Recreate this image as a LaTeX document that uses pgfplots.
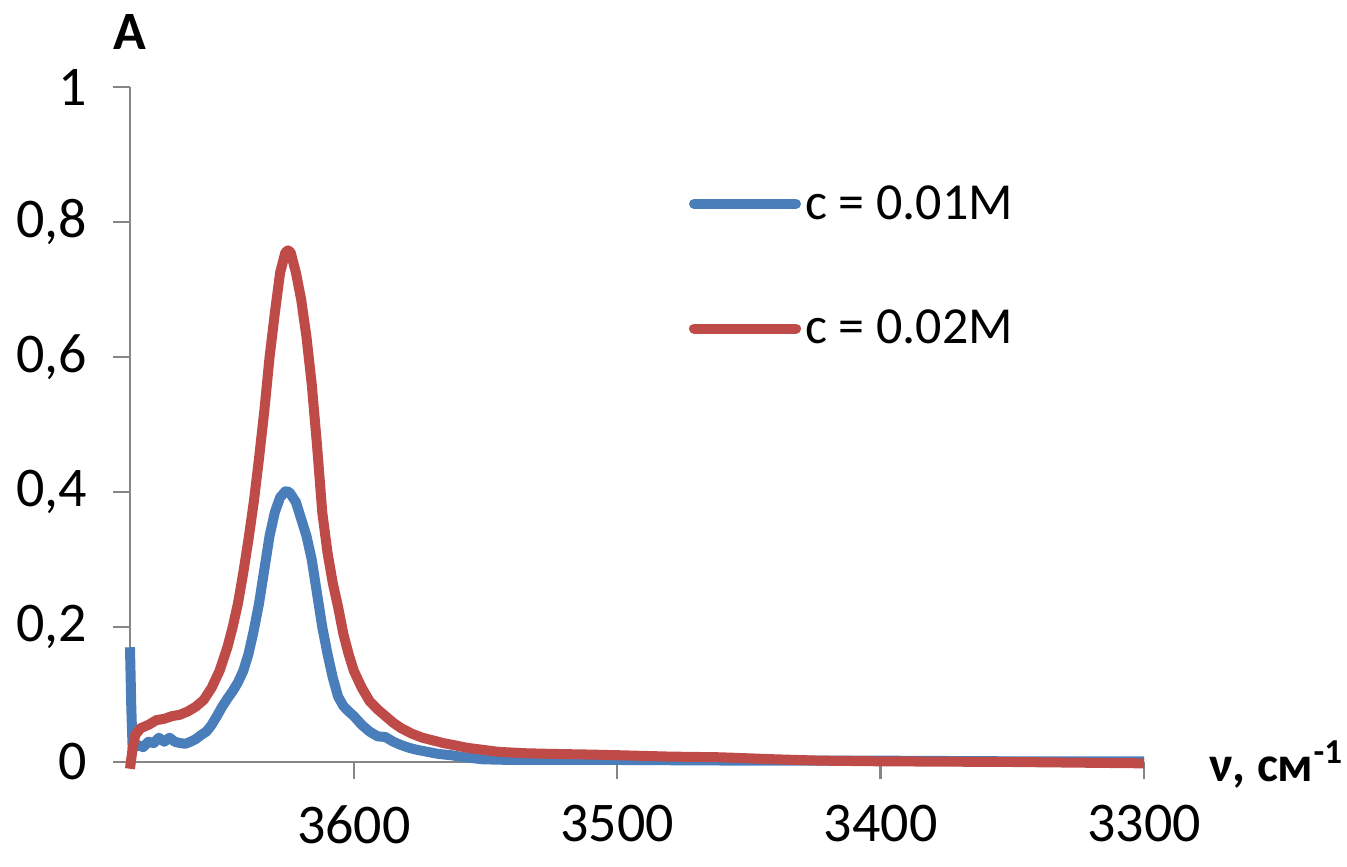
\documentclass[border=0pt]{standalone}
\usepackage{pgfplots}
\pgfplotsset{compat=1.18}
\usepackage{fontspec}
\setmainfont{Carlito}
\definecolor{axisgray}{HTML}{868686}
\definecolor{cblue}{HTML}{4A7EBB}
\definecolor{cred}{HTML}{BE4B48}
\begin{document}
\begin{tikzpicture}
\useasboundingbox (-65pt,-52pt) rectangle (608.5pt,381pt);
\begin{axis}[
  scale only axis, width=507pt, height=337.5pt,
  at={(0,0)}, anchor=south west,
  x dir=reverse, xmin=3300, xmax=3685, ymin=0, ymax=1,
  axis x line=bottom, axis y line=left,
  axis line style={-, draw=axisgray, line width=1.2pt},
  xtick={3300,3400,3500,3600}, ytick={0,0.2,0.4,0.6,0.8,1},
  tick align=outside, major tick length=8.5pt,
  tick style={draw=axisgray, line width=1.2pt},
  ticklabel style={font=\fontsize{28}{28}\selectfont},
  xticklabel style={anchor=north, inner ysep=0pt, yshift=-13pt},
  yticklabel style={anchor=east, xshift=-9.5pt},
  /pgf/number format/assume math mode=true,
  /pgf/number format/use comma,
  /pgf/number format/1000 sep={},
  clip=false,
  xlabel={ν, см\textsuperscript{-1}},
  xlabel style={at={(axis description cs:1.064,-0.0296)}, anchor=base west, inner sep=0pt, font=\fontsize{25}{25}\selectfont\bfseries},
  ylabel={A},
  ylabel style={at={(axis description cs:0,1.082)}, anchor=center, rotate=-90, inner sep=0pt, font=\fontsize{27}{27}\selectfont\bfseries},
  legend style={draw=none, fill=none, at={(axis description cs:0.545,0.7345)}, anchor=west,
    font=\fontsize{26}{26}\selectfont, row sep=44pt, nodes={inner xsep=2pt, inner ysep=0pt}},
  legend cell align=left,
  legend image code/.code={\draw[#1, line cap=round] (0pt,0pt) -- (51pt,0pt);},
]
\addplot[cblue, line width=5pt, line join=round] coordinates {
(3685,0.17) (3684.5,0.08) (3684,0.02) (3682,0.025) (3680,0.022) (3678,0.03)
(3676,0.028) (3674,0.036) (3672,0.03) (3670,0.036) (3668,0.03) (3666,0.028)
(3664,0.027) (3662,0.03) (3660,0.034) (3658,0.04) (3656,0.045) (3654,0.055)
(3652,0.068) (3650,0.082) (3648,0.094) (3646,0.105) (3644,0.118) (3642,0.135)
(3640,0.16) (3638,0.195) (3636,0.235) (3634,0.285) (3632,0.335) (3630,0.37)
(3628,0.392) (3626,0.401) (3624.5,0.40) (3622,0.385) (3620,0.36) (3618,0.335)
(3616,0.30) (3614,0.25) (3612,0.20) (3610,0.16) (3608,0.125) (3606,0.097)
(3604,0.083) (3602,0.075) (3600,0.068) (3597,0.055) (3594,0.045) (3591,0.038)
(3588,0.037) (3585,0.03) (3582,0.025) (3579,0.021) (3576,0.018) (3572,0.015)
(3568,0.012) (3563,0.010) (3558,0.007) (3551,0.004) (3540,0.003) (3520,0.003)
(3500,0.003) (3450,0.002) (3400,0.002) (3350,0.001) (3300,0.001)
};
\addlegendentry{c = 0.01M}
\addplot[cred, line width=5pt, line join=round] coordinates {
(3685,-0.01) (3684,0.02) (3683,0.04) (3681,0.05) (3678,0.055) (3675,0.062)
(3672,0.064) (3669,0.068) (3666,0.07) (3663,0.075) (3660,0.082) (3657,0.092)
(3654,0.11) (3651,0.135) (3648,0.17) (3646,0.2) (3644,0.235) (3642,0.28)
(3640,0.33) (3638,0.385) (3636,0.45) (3634,0.52) (3632,0.6) (3630,0.665)
(3628,0.725) (3626,0.755) (3625,0.758) (3624,0.755) (3622,0.725) (3620,0.685)
(3618,0.63) (3616,0.56) (3614,0.47) (3612,0.37) (3610,0.31) (3608,0.265)
(3606,0.23) (3604,0.19) (3602,0.16) (3600,0.135) (3597,0.11) (3594,0.09)
(3591,0.078) (3588,0.068) (3585,0.058) (3582,0.05) (3578,0.042) (3574,0.036)
(3570,0.032) (3566,0.028) (3562,0.025) (3557,0.021) (3551,0.018) (3545,0.015)
(3535,0.013) (3525,0.012) (3510,0.011) (3499,0.010) (3480,0.008) (3461,0.007)
(3440,0.004) (3423,0.002) (3400,0.001) (3350,0.0) (3300,-0.002)
};
\addlegendentry{c = 0.02M}
\end{axis}
\end{tikzpicture}
\end{document}
